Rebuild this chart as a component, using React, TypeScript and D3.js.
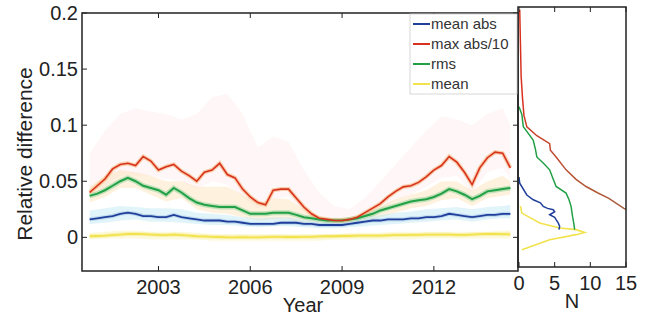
import * as d3 from 'd3';

// time grid: quarter years from 2000.75 to 2014.5
const years = d3.range(56).map(i => 2000.75 + i * 0.25);

const maxAbs10 = [0.040,
  0.046, 0.052, 0.061, 0.065,
  0.066, 0.064, 0.072, 0.068,
  0.060, 0.063, 0.065, 0.059,
  0.055, 0.050, 0.058, 0.060,
  0.066, 0.056, 0.053, 0.043,
  0.036, 0.031, 0.029, 0.042,
  0.043, 0.043, 0.035, 0.027,
  0.021, 0.017, 0.016, 0.015,
  0.015, 0.016, 0.018, 0.022,
  0.026, 0.030, 0.036, 0.041,
  0.045, 0.046, 0.049, 0.054,
  0.060, 0.064, 0.072, 0.067,
  0.058, 0.047, 0.062, 0.071,
  0.076, 0.075, 0.062];

const rms = [0.037,
  0.039, 0.042, 0.046, 0.050,
  0.053, 0.050, 0.046, 0.044,
  0.042, 0.038, 0.044, 0.040,
  0.035, 0.031, 0.029, 0.028,
  0.027, 0.027, 0.027, 0.024,
  0.021, 0.021, 0.021, 0.022,
  0.022, 0.022, 0.020, 0.018,
  0.017, 0.016, 0.015, 0.015,
  0.015, 0.016, 0.017, 0.019,
  0.021, 0.024, 0.026, 0.028,
  0.030, 0.032, 0.033, 0.034,
  0.036, 0.039, 0.043, 0.041,
  0.038, 0.034, 0.037, 0.041,
  0.042, 0.043, 0.044];

const meanAbs = [0.016,
  0.017, 0.018, 0.019, 0.021,
  0.022, 0.021, 0.019, 0.019,
  0.018, 0.018, 0.020, 0.018,
  0.017, 0.016, 0.015, 0.015,
  0.015, 0.014, 0.014, 0.013,
  0.012, 0.012, 0.012, 0.012,
  0.013, 0.013, 0.013, 0.012,
  0.012, 0.011, 0.011, 0.011,
  0.011, 0.012, 0.013, 0.014,
  0.015, 0.015, 0.016, 0.016,
  0.016, 0.017, 0.017, 0.018,
  0.018, 0.019, 0.021, 0.020,
  0.019, 0.018, 0.019, 0.020,
  0.020, 0.021, 0.021];

const meanVal = [0.0010,
  0.0012, 0.0015, 0.0020, 0.0025,
  0.0030, 0.0030, 0.0028, 0.0025,
  0.0022, 0.0020, 0.0025, 0.0020,
  0.0015, 0.0010, 0.0008, 0.0005,
  0.0003, 0.0000, 0.0000, 0.0002,
  0.0000, 0.0000, 0.0002, 0.0005,
  0.0005, 0.0003, 0.0003, 0.0005,
  0.0005, 0.0008, 0.0010, 0.0010,
  0.0012, 0.0012, 0.0015, 0.0015,
  0.0015, 0.0015, 0.0018, 0.0020,
  0.0020, 0.0022, 0.0022, 0.0025,
  0.0025, 0.0025, 0.0025, 0.0022,
  0.0022, 0.0025, 0.0028, 0.0030,
  0.0030, 0.0028, 0.0027];

// shaded spread bands, half-year grid
const bandYears = [2000.75, 2001.25, 2001.75, 2002.25, 2002.75, 2003.25, 2003.75, 2004.25, 2004.75, 2005.25,
  2005.75, 2006.25, 2006.75, 2007.25, 2007.75, 2008.25, 2008.75, 2009.25, 2009.75, 2010.25,
  2010.75, 2011.25, 2011.75, 2012.25, 2012.75, 2013.25, 2013.75, 2014.25, 2014.5];
const maxBandHi = [0.075, 0.095, 0.11, 0.115, 0.112, 0.11, 0.105, 0.11, 0.125, 0.128,
  0.11, 0.08, 0.09, 0.085, 0.06, 0.04, 0.028, 0.025, 0.035, 0.05,
  0.065, 0.08, 0.095, 0.108, 0.105, 0.1, 0.11, 0.115, 0.1];
const maxBandLo = [0.035, 0.045, 0.055, 0.055, 0.055, 0.052, 0.05, 0.043, 0.05, 0.047,
  0.036, 0.025, 0.035, 0.036, 0.022, 0.014, 0.013, 0.014, 0.018, 0.025,
  0.033, 0.038, 0.045, 0.053, 0.055, 0.04, 0.058, 0.062, 0.052];
const rmsBandHi = [0.045, 0.055, 0.06, 0.058, 0.055, 0.05, 0.05, 0.045, 0.045, 0.045,
  0.038, 0.03, 0.035, 0.034, 0.025, 0.019, 0.017, 0.018, 0.022, 0.028,
  0.034, 0.038, 0.042, 0.05, 0.05, 0.042, 0.05, 0.055, 0.05];
const rmsBandLo = [0.031, 0.036, 0.044, 0.044, 0.038, 0.032, 0.035, 0.025, 0.022, 0.021,
  0.018, 0.015, 0.016, 0.016, 0.012, 0.011, 0.010, 0.011, 0.014, 0.018,
  0.022, 0.026, 0.028, 0.033, 0.035, 0.028, 0.035, 0.037, 0.038];
const absBandHi = [0.024, 0.026, 0.028, 0.027, 0.026, 0.026, 0.025, 0.022, 0.021, 0.02,
  0.018, 0.017, 0.018, 0.018, 0.016, 0.015, 0.015, 0.016, 0.018, 0.02,
  0.022, 0.023, 0.025, 0.026, 0.027, 0.025, 0.027, 0.028, 0.029];
const absBandLo = [0.012, 0.013, 0.015, 0.016, 0.014, 0.014, 0.013, 0.012, 0.011, 0.011,
  0.01, 0.009, 0.01, 0.01, 0.009, 0.008, 0.008, 0.009, 0.01, 0.011,
  0.012, 0.013, 0.014, 0.015, 0.016, 0.014, 0.016, 0.017, 0.017];
const meanBandHi = [0.004, 0.005, 0.006, 0.006, 0.005, 0.005, 0.005, 0.004, 0.003, 0.003,
  0.003, 0.003, 0.003, 0.003, 0.003, 0.003, 0.003, 0.004, 0.004, 0.004,
  0.005, 0.005, 0.005, 0.005, 0.005, 0.005, 0.005, 0.006, 0.006];
const meanBandLo = [-0.002, -0.001, -0.001, -0.001, -0.002, -0.002, -0.002, -0.002, -0.003, -0.003,
  -0.003, -0.003, -0.003, -0.003, -0.003, -0.003, -0.002, -0.002, -0.002, -0.002,
  -0.002, -0.002, -0.001, -0.001, -0.001, -0.001, -0.001, -0.001, -0.001];

// side histogram traces: [N, value]
const histMax: [number, number][] = [[0.1, 0.2], [0.2, 0.17], [0.3, 0.14], [0.5, 0.12], [0.7, 0.105], [1.1, 0.095],
  [2.5, 0.087], [4.3, 0.08], [4.4, 0.074], [5.2, 0.068], [6.6, 0.0565], [8, 0.048], [9.4, 0.0416],
  [11, 0.036], [12.6, 0.031], [14.7, 0.022], [17, 0.015]];
const histRms: [number, number][] = [[0, 0.113], [0.4, 0.106], [0.6, 0.095], [1.2, 0.09], [2.0, 0.083], [2.3, 0.075],
  [2.5, 0.068], [3.5, 0.062], [4.3, 0.0565], [4.8, 0.048], [5.2, 0.0416], [6.6, 0.0357], [7.0, 0.03],
  [7.3, 0.0238], [7.5, 0.015], [7.7, 0.008], [7.8, 0.003]];
const histMeanAbs: [number, number][] = [[0, 0.05], [0.1, 0.0446], [1.1, 0.034], [2.0, 0.0297], [3.0, 0.027],
  [3.4, 0.0238], [4.0, 0.022], [4.8, 0.0208], [5.0, 0.019], [4.3, 0.0163], [5.0, 0.014], [5.2, 0.0119],
  [5.5, 0.009], [5.7, 0.0059], [5.6, 0.003]];
const histMean: [number, number][] = [[0.2, 0.024], [0.4, 0.0178], [2.9, 0.0089], [5.7, 0.0045], [8.0, 0.003],
  [9.2, 0.0005], [8.0, -0.0015], [4.3, -0.006], [1.1, -0.0134], [0.4, -0.015]];

const yTicks = [0, 0.05, 0.1, 0.15, 0.2];
const xTicks = [2003, 2006, 2009, 2012];
const nTicks = [0, 5, 10, 15];

const legendItems = [
  { label: 'mean abs', color: '#1f3f9a' },
  { label: 'max abs/10', color: '#d8321f' },
  { label: 'rms', color: '#22a046' },
  { label: 'mean', color: '#f2e24e' },
];

const FONT = 'Liberation Sans, Arial, Helvetica, sans-serif';

export default function App() {
  const W = 662, H = 320;
  const main = { left: 82, right: 518, top: 13, bottom: 271 };
  const hist = { left: 518, right: 626, top: 7, bottom: 267 };

  const x = d3.scaleLinear().domain([2000.5, 2014.75]).range([main.left, main.right]);
  const y = d3.scaleLinear().domain([-0.03, 0.2]).range([main.bottom, main.top]);
  const hx = d3.scaleLinear().domain([0, 15]).range([519, hist.right]);
  const hy = d3.scaleLinear().domain([-0.03, 0.2]).range([266.5, 9.5]);

  const seriesLine = (vals: number[]) =>
    d3.line<number>().x((_, i) => x(years[i])).y(d => y(d))(vals) || '';
  const band = (lo: number[], hi: number[]) =>
    d3.area<number>().x((_, i) => x(bandYears[i])).y0((_, i) => y(lo[i])).y1(d => y(d))(hi) || '';
  const histLine = (pts: [number, number][]) =>
    d3.line<[number, number]>().x(d => hx(d[0])).y(d => hy(d[1]))(pts) || '';

  const tk = 5;

  return (
    <svg width={W} height={H} style={{ position: 'absolute', left: 0, top: 0, background: '#fff' }} fontFamily={FONT}>
      <defs>
        <clipPath id="mainClip">
          <rect x={main.left} y={main.top} width={main.right - main.left} height={main.bottom - main.top} />
        </clipPath>
        <clipPath id="histClip">
          <rect x={hist.left} y={hist.top} width={hist.right - hist.left} height={hist.bottom - hist.top} />
        </clipPath>
        <linearGradient id="maxGrad" gradientUnits="userSpaceOnUse" x1="0" y1={hy(0.12)} x2="0" y2={hy(0.02)}>
          <stop offset="0%" stopColor="#d8321f" />
          <stop offset="100%" stopColor="#a8603e" />
        </linearGradient>
      </defs>

      {/* shaded bands */}
      <g clipPath="url(#mainClip)">
        <path d={band(maxBandLo, maxBandHi)} fill="#f6b3c0" opacity={0.12} />
        <path d={band(rmsBandLo, rmsBandHi)} fill="#fbd9a0" opacity={0.35} />
        <path d={band(absBandLo, absBandHi)} fill="#bde6f2" opacity={0.45} />
        <path d={band(meanBandLo, meanBandHi)} fill="#fbf2b8" opacity={0.45} />

        {/* halos */}
        <path d={seriesLine(meanVal)} fill="none" stroke="#f7ec8a" strokeWidth={4} opacity={0.6} />
        <path d={seriesLine(meanAbs)} fill="none" stroke="#8fb4e0" strokeWidth={4} opacity={0.4} />
        <path d={seriesLine(rms)} fill="none" stroke="#8fd39a" strokeWidth={5} opacity={0.55} />
        <path d={seriesLine(maxAbs10)} fill="none" stroke="#f4a45a" strokeWidth={4} opacity={0.5} />

        <path d={seriesLine(meanVal)} fill="none" stroke="#f2e24e" strokeWidth={1.8} />
        <path d={seriesLine(meanAbs)} fill="none" stroke="#1f3f9a" strokeWidth={1.8} />
        <path d={seriesLine(rms)} fill="none" stroke="#22a046" strokeWidth={2} />
        <path d={seriesLine(maxAbs10)} fill="none" stroke="#d8321f" strokeWidth={1.6} />
      </g>

      {/* histogram traces */}
      <g clipPath="url(#histClip)" fill="none">
        <path d={histLine(histMean)} stroke="#f2e24e" strokeWidth={1.6} />
        <path d={histLine(histMeanAbs)} stroke="#1f3f9a" strokeWidth={1.5} />
        <path d={histLine(histRms)} stroke="#22a046" strokeWidth={1.5} />
        <path d={histLine(histMax)} stroke="url(#maxGrad)" strokeWidth={1.5} />
      </g>

      {/* main axes box */}
      <rect x={main.left} y={main.top} width={main.right - main.left} height={main.bottom - main.top}
        fill="none" stroke="#222" strokeWidth={1.5} />
      {yTicks.map(t => (
        <g key={'y' + t}>
          <line x1={main.left} x2={main.left + tk} y1={y(t)} y2={y(t)} stroke="#222" />
          <line x1={main.right - tk} x2={main.right} y1={y(t)} y2={y(t)} stroke="#222" />
          <text x={main.left - 4} y={y(t) + 7} textAnchor="end" fontSize={20} fill="#222">{t}</text>
        </g>
      ))}
      {xTicks.map(t => (
        <g key={'x' + t}>
          <line x1={x(t)} x2={x(t)} y1={main.bottom} y2={main.bottom - tk} stroke="#222" />
          <line x1={x(t)} x2={x(t)} y1={main.top} y2={main.top + tk} stroke="#222" />
          <text x={x(t)} y={294} textAnchor="middle" fontSize={20} fill="#222">{t}</text>
        </g>
      ))}
      <text x={303} y={312} textAnchor="middle" fontSize={20} fill="#222">Year</text>
      <text transform={`translate(32,${(main.top + main.bottom) / 2 + 12}) rotate(-90)`} textAnchor="middle"
        fontSize={21} fill="#222">Relative difference</text>

      {/* histogram box */}
      <rect x={hist.left} y={hist.top} width={hist.right - hist.left} height={hist.bottom - hist.top}
        fill="none" stroke="#222" strokeWidth={1.5} />
      {nTicks.map(t => (
        <g key={'n' + t}>
          <line x1={hx(t)} x2={hx(t)} y1={hist.bottom} y2={hist.bottom - tk} stroke="#222" />
          <line x1={hx(t)} x2={hx(t)} y1={hist.top} y2={hist.top + tk} stroke="#222" />
          <text x={hx(t)} y={290} textAnchor="middle" fontSize={20} fill="#222">{t}</text>
        </g>
      ))}
      <text x={572} y={308} textAnchor="middle" fontSize={20} fill="#222">N</text>

      {/* legend */}
      <rect x={410} y={main.top + 1} width={main.right - 410 - 1} height={80} fill="#fff" stroke="#ccc" strokeWidth={0.8} />
      {legendItems.map((d, i) => (
        <g key={d.label}>
          <line x1={413} x2={430} y1={24 + i * 20} y2={24 + i * 20} stroke={d.color} strokeWidth={2} />
          <text x={431} y={24 + i * 20 + 5} fontSize={15} fill="#333">{d.label}</text>
        </g>
      ))}
    </svg>
  );
}
